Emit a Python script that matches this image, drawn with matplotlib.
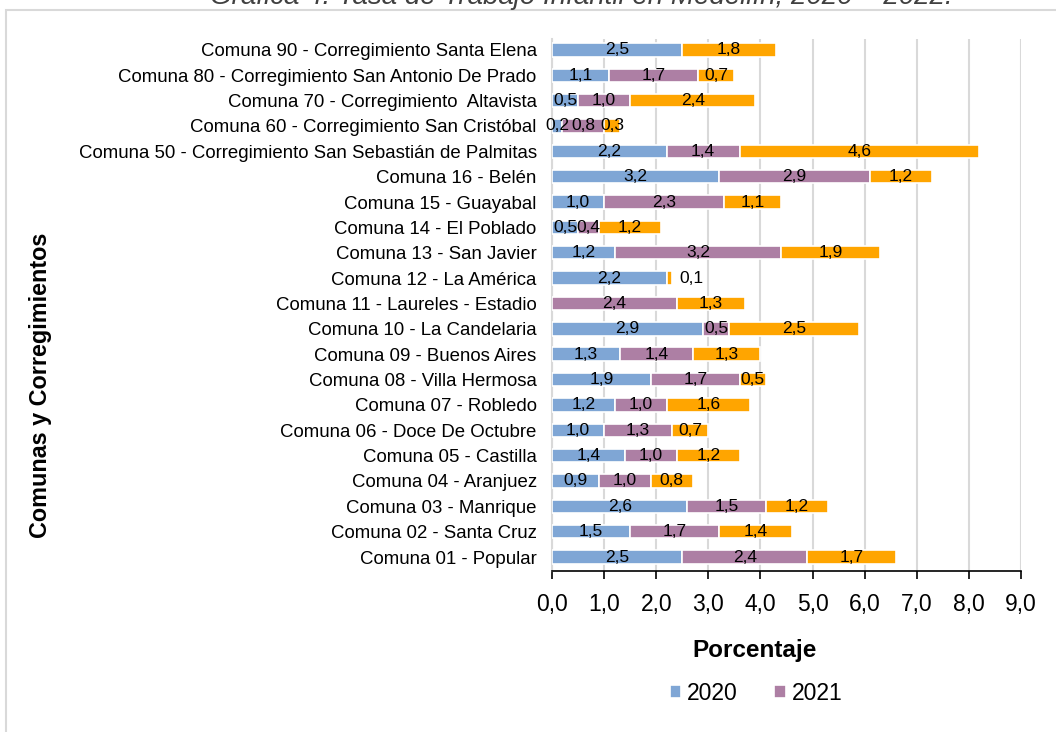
import numpy as np
import matplotlib.pyplot as plt

plt.rcParams['font.family'] = ['Liberation Sans', 'DejaVu Sans']

# categories from bottom to top
comunas = [
    "Comuna 01 - Popular",
    "Comuna 02 - Santa Cruz",
    "Comuna 03 - Manrique",
    "Comuna 04 - Aranjuez",
    "Comuna 05 - Castilla",
    "Comuna 06 - Doce De Octubre",
    "Comuna 07 - Robledo",
    "Comuna 08 - Villa Hermosa",
    "Comuna 09 - Buenos Aires",
    "Comuna 10 - La Candelaria",
    "Comuna 11 - Laureles - Estadio",
    "Comuna 12 - La América",
    "Comuna 13 - San Javier",
    "Comuna 14 - El Poblado",
    "Comuna 15 - Guayabal",
    "Comuna 16 - Belén",
    "Comuna 50 - Corregimiento San Sebastián de Palmitas",
    "Comuna 60 - Corregimiento San Cristóbal",
    "Comuna 70 - Corregimiento  Altavista",
    "Comuna 80 - Corregimiento San Antonio De Prado",
    "Comuna 90 - Corregimiento Santa Elena",
]
v2020 = [2.5, 1.5, 2.6, 0.9, 1.4, 1.0, 1.2, 1.9, 1.3, 2.9, 0.0, 2.2, 1.2, 0.5, 1.0, 3.2, 2.2, 0.2, 0.5, 1.1, 2.5]
v2021 = [2.4, 1.7, 1.5, 1.0, 1.0, 1.3, 1.0, 1.7, 1.4, 0.5, 2.4, 0.0, 3.2, 0.4, 2.3, 2.9, 1.4, 0.8, 1.0, 1.7, 0.0]
v2022 = [1.7, 1.4, 1.2, 0.8, 1.2, 0.7, 1.6, 0.5, 1.3, 2.5, 1.3, 0.1, 1.9, 1.2, 1.1, 1.2, 4.6, 0.3, 2.4, 0.7, 1.8]
years = ["2020", "2021", "2022"]
colors = ["#7FA6D5", "#AD7FA4", "#FFA500"]

fig = plt.figure(figsize=(10.56, 7.32), dpi=100)
ax = fig.add_axes([0.5227, 0.22, 0.4442, 0.7267])

# chart frame (cropped at right/bottom)
fig.patches.append(plt.Rectangle((6 / 1056, -0.1), 1.2, 1 - 10 / 732 + 0.1,
                                 transform=fig.transFigure, fill=False,
                                 edgecolor="#D9D9D9", linewidth=1.5))
fig.text(210 / 1056, 1 - 4 / 732, "Gráfica 4. Tasa de Trabajo Infantil en Medellín, 2020 – 2022.",
         ha="left", va="baseline", fontsize=20, style="italic", color="#404040")

y = np.arange(len(comunas))
left = np.zeros(len(comunas))
handles = []
for vals, col, yr in zip([v2020, v2021, v2022], colors, years):
    vals = np.array(vals)
    bars = ax.barh(y, vals, left=left, height=0.53, color=col,
                   edgecolor="white", linewidth=1.2, label=yr, zorder=3)
    handles.append(bars)
    for yi, (l, v) in enumerate(zip(left, vals)):
        if v <= 0:
            continue
        txt = f"{v:.1f}".replace(".", ",")
        if v < 0.2:
            ax.text(l + v + 0.15, yi, txt, ha="left", va="center", fontsize=12.5, zorder=4)
        else:
            ax.text(l + v / 2, yi, txt, ha="center", va="center", fontsize=12.5, zorder=4)
    left = left + vals

ax.set_xlim(0, 9)
ax.set_ylim(-0.55, len(comunas) - 0.57)
ax.set_xticks(np.arange(0, 10, 1))
ax.set_xticklabels([f"{t:.1f}".replace(".", ",") for t in np.arange(0, 10, 1)], fontsize=16.5)
ax.set_yticks(y)
ax.set_yticklabels(comunas, fontsize=13.4)
ax.tick_params(axis="y", length=0, pad=11)
ax.tick_params(axis="x", direction="out", length=6, width=1.2, pad=10)

ax.grid(axis="x", color="#D9D9D9", linewidth=1.5, zorder=0)
ax.set_axisbelow(True)
for s in ["top", "right"]:
    ax.spines[s].set_visible(False)
ax.spines["left"].set_color("#D9D9D9")
ax.spines["left"].set_linewidth(1.5)
ax.spines["bottom"].set_color("black")
ax.spines["bottom"].set_linewidth(1.2)

fig.text(755 / 1056, 1 - 651 / 732, "Porcentaje", ha="center", va="center",
         fontsize=17.5, fontweight="bold")
fig.text(41 / 1056, 1 - 385 / 732, "Comunas y Corregimientos", rotation=90, ha="center", va="center",
         fontsize=16.8, fontweight="bold")

fig.legend(handles[:2], years[:2], loc="center", bbox_to_anchor=(756 / 1056, 1 - 693 / 732),
           ncol=2, frameon=False, fontsize=16.5, handlelength=0.5, handleheight=0.5,
           columnspacing=1.6, handletextpad=0.25)

fig.savefig("out.png", dpi=100)
